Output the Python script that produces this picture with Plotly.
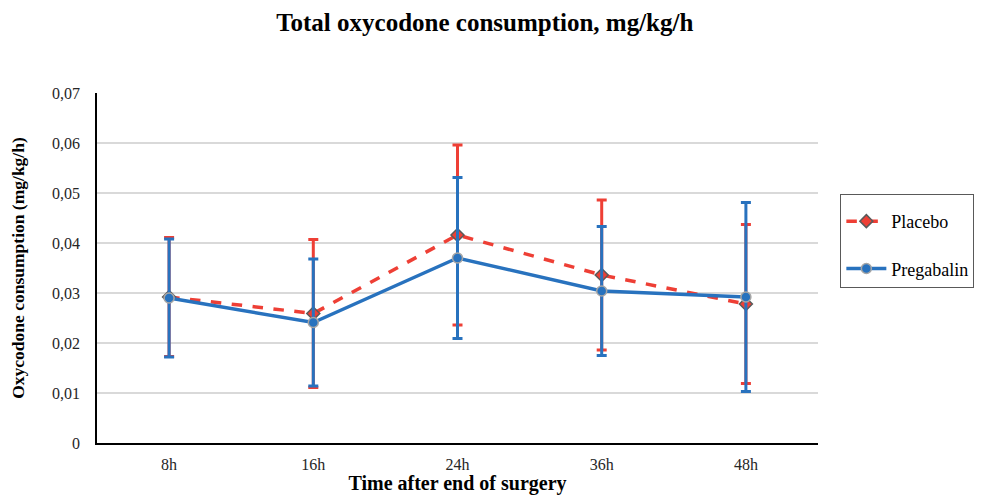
import plotly.graph_objects as go

categories = ["8h", "16h", "24h", "36h", "48h"]
placebo = [0.0292, 0.0259, 0.0416, 0.0336, 0.0278]
placebo_err = [0.0119, 0.0148, 0.0180, 0.0150, 0.0159]
pregabalin = [0.0290, 0.0241, 0.0370, 0.0304, 0.0292]
pregabalin_err = [0.0118, 0.0127, 0.0161, 0.0129, 0.0189]
y_tickvals = [0, 0.01, 0.02, 0.03, 0.04, 0.05, 0.06, 0.07]
y_ticktext = ["0", "0,01", "0,02", "0,03", "0,04", "0,05", "0,06", "0,07"]

RED = "#EE3F35"
BLUE = "#2872BE"
FONT = "Liberation Serif, Times New Roman, serif"

fig = go.Figure()
fig.add_trace(go.Scatter(
    x=categories, y=placebo, name="Placebo", mode="lines+markers",
    legendgroup="a",
    line=dict(color=RED, width=3.5, dash="dash"),
    marker=dict(symbol="diamond", size=10, color=RED, line=dict(color="#5A5A5A", width=1.5)),
    error_y=dict(type="data", array=placebo_err, visible=True, color=RED, thickness=3, width=5),
))
fig.add_trace(go.Scatter(
    x=categories, y=pregabalin, name="Pregabalin", mode="lines+markers",
    legendgroup="b",
    line=dict(color=BLUE, width=3.5),
    marker=dict(symbol="circle", size=10, color=BLUE, line=dict(color="#A6A6A6", width=1.5)),
    error_y=dict(type="data", array=pregabalin_err, visible=True, color=BLUE, thickness=3, width=5),
))

fig.update_layout(
    width=979, height=487,
    margin=dict(l=89, r=169, t=85, b=52),
    paper_bgcolor="white", plot_bgcolor="white",
    font=dict(family=FONT, size=16, color="#262626"),
    title=dict(text="<b>Total oxycodone consumption, mg/kg/h</b>",
               x=0.487, xanchor="center", y=0.971, yanchor="middle",
               font=dict(family=FONT, size=25, color="#000000")),
    showlegend=True,
    legend=dict(x=1.031, xanchor="left", y=0.711, yanchor="top",
                bordercolor="#595959", borderwidth=1, bgcolor="white",
                font=dict(family=FONT, size=18, color="#000000"),
                itemwidth=40,
                title=dict(text=" ", font=dict(size=6)),
                traceorder="grouped", tracegroupgap=21),
)
fig.update_xaxes(
    type="category", range=[-0.5, 4.5],
    showgrid=False, showline=True, linecolor="#000000", linewidth=1.5,
    ticks="", ticklabelstandoff=6, tickfont=dict(family=FONT, size=16, color="#262626"),
    title=dict(text="<b>Time after end of surgery</b>", font=dict(family=FONT, size=20, color="#000000"), standoff=10),
    automargin=False,
)
fig.update_yaxes(
    range=[0, 0.07], tickvals=y_tickvals, ticktext=y_ticktext,
    showgrid=True, gridcolor="#D9D9D9", gridwidth=1.5,
    showline=True, linecolor="#000000", linewidth=1.5, zeroline=False,
    ticks="", ticklabelstandoff=12, tickfont=dict(family=FONT, size=16, color="#262626"),
    title=dict(text="<b>Oxycodone consumption (mg/kg/h)</b>", font=dict(family=FONT, size=17.5, color="#000000"), standoff=26),
    automargin=False,
)

fig.write_html("out.html")
